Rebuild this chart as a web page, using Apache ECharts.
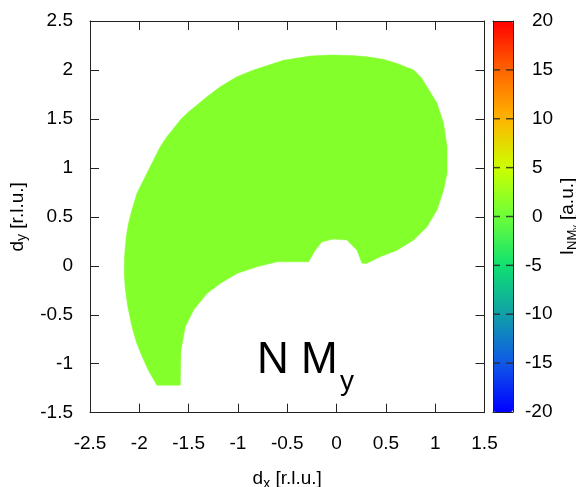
<!DOCTYPE html>
<html><head><meta charset="utf-8">
<script src="https://cdn.jsdelivr.net/npm/echarts/dist/echarts.min.js"></script>
<style>html,body{margin:0;padding:0;background:#fff}#c{width:576px;height:487px}</style>
</head><body><div id="c"></div>
<script>
// Boundary of the measured region (d_x, d_y in r.l.u.)
const boundaryX = [-1.821,-1.910,-1.974,-2.030,-2.080,-2.120,-2.143,-2.153,-2.150,-2.133,-2.110,-2.075,-2.024,-1.974,-1.923,-1.856,-1.788,-1.720,-1.653,-1.585,-1.517,-1.416,-1.314,-1.180,-1.010,-0.842,-0.538,-0.267,-0.064,0.150,0.308,0.470,0.613,0.781,0.860,0.917,1.018,1.085,1.120,1.120,1.085,1.018,0.917,0.781,0.613,0.443,0.308,0.258,0.207,0.105,-0.030,-0.148,-0.216,-0.284,-0.402,-0.604,-0.807,-1.010,-1.180,-1.314,-1.450,-1.534,-1.578,-1.585];
const boundaryY = [-1.219,-1.065,-0.920,-0.780,-0.600,-0.400,-0.230,-0.075,0.092,0.296,0.433,0.569,0.740,0.842,0.944,1.080,1.216,1.318,1.403,1.488,1.557,1.641,1.726,1.828,1.931,1.999,2.098,2.142,2.152,2.148,2.135,2.110,2.067,1.999,1.920,1.828,1.659,1.455,1.216,0.944,0.773,0.569,0.398,0.263,0.160,0.092,0.025,0.025,0.160,0.263,0.273,0.245,0.160,0.041,0.041,0.041,-0.010,-0.078,-0.180,-0.282,-0.452,-0.623,-0.861,-1.219];
const regionIntensity = 1.2;   // I_NM_y [a.u.] inside the region
const xRange = [-2.5, 1.5];
const yRange = [-1.5, 2.5];
const tickStep = 0.5;
const cbRange = [-20, 20];
const cbStep = 5;
const cbTickValues = [-15, -10, -5, 0, 5, 10, 15];
const cbColors = ['#0000ff','#1058e8','#10a0a8','#10e070','#6cff38','#ccff00','#ffb400','#ff6400','#ff0000'];

const seriesData = boundaryX.map((x, i) => [x, boundaryY[i], regionIntensity]);

const FF = 'Liberation Sans, Arial, sans-serif';
const lineC = '#222';
const frameAxis = (extra) => Object.assign({
  type: 'value', splitLine: {show: false},
  axisLine: {show: true, onZero: false, lineStyle: {color: lineC, width: 1}},
  axisTick: {show: true, inside: true, length: 9, lineStyle: {color: lineC}},
  axisLabel: {show: false}
}, extra);

const chart = echarts.init(document.getElementById('c'), null, {renderer: 'canvas'});
chart.setOption({
  animation: false,
  backgroundColor: '#fff',
  grid: [
    {left: 90, top: 21, width: 394.5, height: 391.7, containLabel: false, outerBoundsMode: 'none'},
    {left: 493, top: 21, width: 20, height: 391, containLabel: false, outerBoundsMode: 'none'}
  ],
  xAxis: [
    frameAxis({gridIndex: 0, position: 'bottom', min: xRange[0], max: xRange[1], interval: tickStep,
      axisLabel: {show: true, margin: 22, fontSize: 19, color: '#000', fontFamily: FF},
      name: '{i|d}{s|x}{i| [r.l.u.]}', nameLocation: 'middle', nameGap: 54,
      nameTextStyle: {fontFamily: FF, color: '#000', rich: {
        i: {fontSize: 19, fontFamily: FF, color: '#000'},
        s: {fontSize: 14, fontFamily: FF, color: '#000', padding: [10, 0, 0, 0]}}}}),
    frameAxis({gridIndex: 0, position: 'top', min: xRange[0], max: xRange[1], interval: tickStep}),
    frameAxis({gridIndex: 1, position: 'bottom', min: 0, max: 1, axisTick: {show: false}, zlevel: 1}),
    frameAxis({gridIndex: 1, position: 'top', min: 0, max: 1, axisTick: {show: false}, zlevel: 1})
  ],
  yAxis: [
    frameAxis({gridIndex: 0, position: 'left', min: yRange[0], max: yRange[1], interval: tickStep,
      axisLabel: {show: true, margin: 17, fontSize: 19, color: '#000', fontFamily: FF},
      name: '{i|d}{s|y}{i| [r.l.u.]}', nameLocation: 'middle', nameGap: 56,
      nameTextStyle: {fontFamily: FF, color: '#000', rich: {
        i: {fontSize: 19, fontFamily: FF, color: '#000'},
        s: {fontSize: 14, fontFamily: FF, color: '#000', padding: [10, 0, 0, 0]}}}}),
    frameAxis({gridIndex: 0, position: 'right', min: yRange[0], max: yRange[1], interval: tickStep}),
    frameAxis({gridIndex: 1, position: 'left', min: cbRange[0], max: cbRange[1], interval: cbStep, zlevel: 1,
      axisTick: {show: false}}),
    frameAxis({gridIndex: 1, position: 'right', min: cbRange[0], max: cbRange[1], interval: cbStep, zlevel: 1,
      axisTick: {show: false},
      axisLabel: {show: true, margin: 12, fontSize: 19, color: '#000', fontFamily: FF,
        formatter: v => (v >= 0 ? '{p|' + v + '}' : '' + v),
        rich: {p: {fontSize: 19, fontFamily: FF, color: '#000', padding: [0, 0, 0, 7]}}},
      name: '{i|I}{s|NM}{t|y}{i| [a.u.]}', nameLocation: 'middle', nameGap: 42,
      nameTextStyle: {fontFamily: FF, color: '#000', rich: {
        i: {fontSize: 19, fontFamily: FF, color: '#000'},
        s: {fontSize: 13, fontFamily: FF, color: '#000', padding: [9, 0, 0, 0]},
        t: {fontSize: 9, fontFamily: FF, color: '#000', padding: [16, 0, 0, 0]}}}})
  ],
  visualMap: {
    type: 'continuous', min: cbRange[0], max: cbRange[1], orient: 'vertical',
    left: 493, top: 21, itemWidth: 20, itemHeight: 391, padding: 0,
    calculable: false, showLabel: false, text: null, seriesIndex: 0, dimension: 2,
    inRange: {color: cbColors}, z: 2
  },
  graphic: [
    {type: 'text', left: 257, top: 339, z: 20,
      style: {text: 'N M', fontSize: 44, fontFamily: FF, fill: '#000'}},
    {type: 'text', left: 340, top: 368, z: 20,
      style: {text: 'y', fontSize: 28, fontFamily: FF, fill: '#000'}}
  ],
  series: [{
    type: 'custom', xAxisIndex: 0, yAxisIndex: 0, clip: true,
    dimensions: ['x', 'y', 'I'], encode: {x: 0, y: 1},
    data: seriesData,
    renderItem: function (params, api) {
      if (params.dataIndex !== 0) return null;
      const pts = seriesData.map(d => api.coord([d[0], d[1]]));
      const c = api.visual('color');
      return {type: 'polygon', shape: {points: pts}, style: {fill: c, stroke: c, lineWidth: 0.5}};
    }
  }, {
    // colour-bar tick marks (gnuplot style: short inner ticks on both edges)
    type: 'custom', xAxisIndex: 2, yAxisIndex: 2, zlevel: 1, z: 100, silent: true,
    dimensions: ['x', 'v'], encode: {x: 0, y: 1},
    data: cbTickValues.map(v => [0, v]),
    renderItem: function (params, api) {
      const a = api.coord([0, api.value(1)]);
      const b = api.coord([1, api.value(1)]);
      const st = {stroke: '#2a2a2a', lineWidth: 1.5, opacity: 0.85};
      return {type: 'group', children: [
        {type: 'line', shape: {x1: a[0], y1: a[1], x2: a[0] + 7, y2: a[1]}, style: st},
        {type: 'line', shape: {x1: b[0] - 7, y1: b[1], x2: b[0], y2: b[1]}, style: st}
      ]};
    }
  }]
});
</script></body></html>
